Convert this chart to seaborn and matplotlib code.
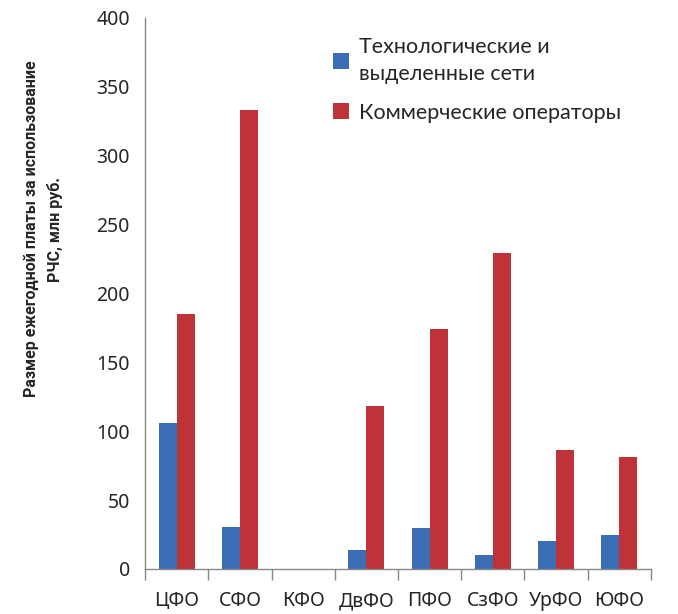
import matplotlib
matplotlib.use("Agg")
import matplotlib.pyplot as plt
import seaborn as sns
import pandas as pd
from matplotlib.ticker import FixedLocator, NullFormatter

districts = ["ЦФО", "СФО", "КФО", "ДвФО", "ПФО", "СзФО", "УрФО", "ЮФО"]
tech_nets = [106, 30.5, 0, 13.8, 30, 10, 20, 24.5]
commercial = [185, 333, 0, 118, 174, 229, 86, 81]
series_names = ["Технологические и\nвыделенные сети", "Коммерческие операторы"]
colors = ["#3a6db3", "#bf3237"]

df = pd.DataFrame({
    "district": districts * 2,
    "value": tech_nets + commercial,
    "series": [series_names[0]] * len(districts) + [series_names[1]] * len(districts),
})

sns.set_style("white")
plt.rcParams["font.family"] = ["Noto Sans", "DejaVu Sans"]

fig = plt.figure(figsize=(6.78, 6.14), dpi=100)
ax = fig.add_axes([0.214, 0.0733, 0.746, 0.8977])

sns.barplot(data=df, x="district", y="value", hue="series", palette=colors,
            width=0.57, gap=0, saturation=1, ax=ax, linewidth=0)

ax.set_xlim(-0.5, len(districts) - 0.5)
ax.set_ylim(0, 400)
ax.set_yticks(range(0, 401, 50))
ax.tick_params(axis="y", labelsize=14, length=5, width=1, color="#888888", pad=6)
ax.tick_params(axis="x", which="major", labelsize=14, length=0, pad=16)
ax.xaxis.set_minor_locator(FixedLocator([i - 0.5 for i in range(len(districts) + 1)]))
ax.xaxis.set_minor_formatter(NullFormatter())
ax.tick_params(axis="x", which="minor", length=8, width=1, color="#888888", bottom=True)

for side in ["top", "right"]:
    ax.spines[side].set_visible(False)
for side in ["left", "bottom"]:
    ax.spines[side].set_color("#888888")
    ax.spines[side].set_linewidth(1)

ax.set_xlabel("")
ax.set_ylabel("")
fig.text(0.064, 0.627, "Размер ежегодной платы за использование\nРЧС, млн руб.",
         rotation=90, ha="center", va="center", fontsize=11.5, fontweight="bold",
         family=["Roboto", "DejaVu Sans"], linespacing=1.6)

handles, labels = ax.get_legend_handles_labels()
leg = ax.legend(handles, labels, loc="upper left", bbox_to_anchor=(0.372, 0.965),
                frameon=False, borderpad=0, borderaxespad=0, handlelength=0.75,
                handleheight=0.75, handletextpad=0.45, labelspacing=0.85,
                prop={"family": ["Lato", "DejaVu Sans"], "size": 15.5})
for t in leg.get_texts():
    t.set_linespacing(1.45)

fig.savefig("out.png", dpi=100)
